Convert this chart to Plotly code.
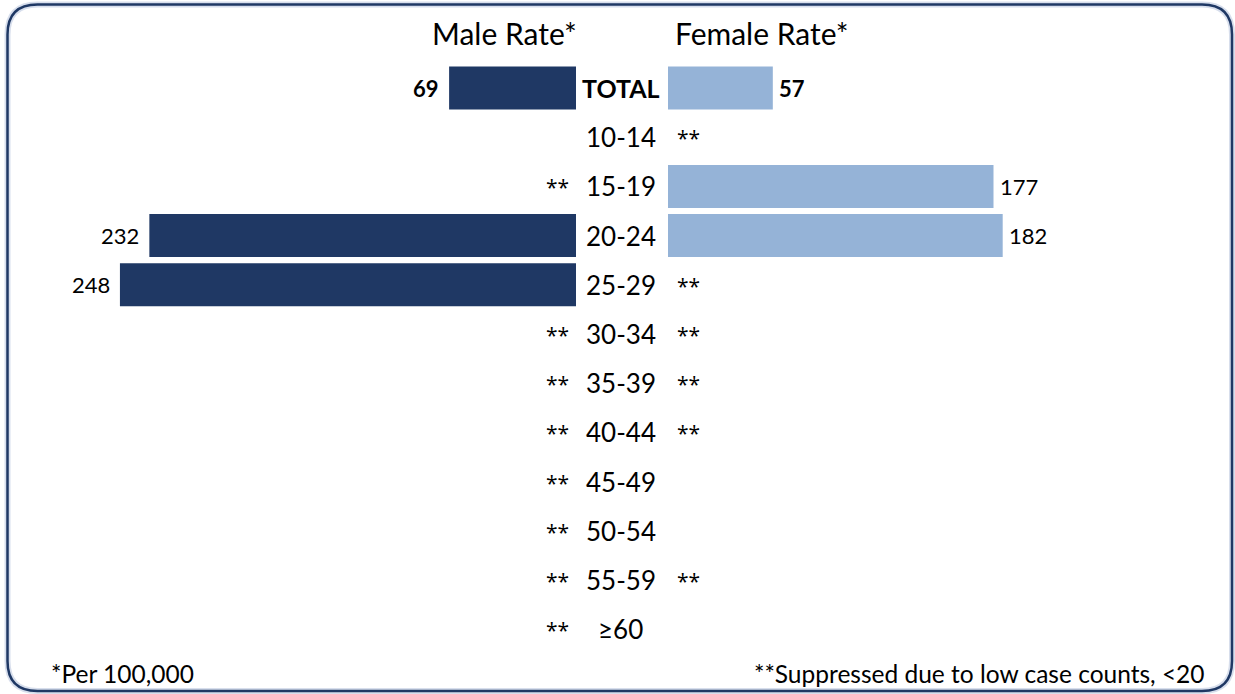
import plotly.graph_objects as go

# Rates per 100,000 by age group; None = no bar
age_groups = ["TOTAL", "10-14", "15-19", "20-24", "25-29", "30-34", "35-39",
              "40-44", "45-49", "50-54", "55-59", "≥60"]
male_rate = [69, None, None, 232, 248, None, None, None, None, None, None, None]
female_rate = [57, None, 177, 182, None, None, None, None, None, None, None, None]
# "**" marks suppressed cells (low case counts)
male_note = ["", "", "**", "", "", "**", "**", "**", "**", "**", "**", "**"]
female_note = ["", "**", "", "", "**", "**", "**", "**", "", "", "**", ""]

W, H = 1235, 694
MALE_COLOR = "#1f3864"
FEMALE_COLOR = "#95b3d7"
FONT = "Lato"
STAR_FONT = "Open Sans"
PX_PER_UNIT = 1.839
MALE_ZERO = 576
FEMALE_ZERO = 668
ROW0, ROW_STEP = 88, 49.2

fig = go.Figure()
fig.add_trace(go.Bar(
    y=age_groups, x=male_rate, orientation="h", xaxis="x", yaxis="y",
    marker=dict(color=MALE_COLOR, line=dict(width=0)), width=0.874,
    hoverinfo="x+y", name="Male"))
fig.add_trace(go.Bar(
    y=age_groups, x=female_rate, orientation="h", xaxis="x2", yaxis="y",
    marker=dict(color=FEMALE_COLOR, line=dict(width=0)), width=0.874,
    hoverinfo="x+y", name="Female"))

annotations = []
for i, g in enumerate(age_groups):
    bold = g == "TOTAL"
    label = f"<b>{g}</b>" if bold else g
    annotations.append(dict(
        text=label, x=621 / W, xref="paper", y=g, yref="y",
        xanchor="center", yanchor="middle", showarrow=False,
        font=dict(family=FONT, size=26 if not bold else 25, color="#000")))
    m = male_rate[i]
    if m is not None:
        t = f"<b>{m}</b>" if bold else str(m)
        annotations.append(dict(
            text=t, x=m, xref="x", y=g, yref="y", xanchor="right",
            yanchor="middle", xshift=-8, showarrow=False,
            font=dict(family=FONT, size=22, color="#000")))
    if male_note[i]:
        annotations.append(dict(
            text=male_note[i], x=0, xref="x", y=g, yref="y", xanchor="right",
            yanchor="middle", xshift=-5, yshift=-1, showarrow=False,
            font=dict(family=STAR_FONT, size=21, color="#000")))
    f = female_rate[i]
    if f is not None:
        t = f"<b>{f}</b>" if bold else str(f)
        annotations.append(dict(
            text=t, x=f, xref="x2", y=g, yref="y", xanchor="left",
            yanchor="middle", xshift=4, showarrow=False,
            font=dict(family=FONT, size=22, color="#000")))
    if female_note[i]:
        annotations.append(dict(
            text=female_note[i], x=0, xref="x2", y=g, yref="y", xanchor="left",
            yanchor="middle", xshift=7, yshift=-1, showarrow=False,
            font=dict(family=STAR_FONT, size=21, color="#000")))

# Column headers
annotations.append(dict(text="Male Rate*", x=505 / W, xref="paper", y=1 - 33 / H,
                        yref="paper", xanchor="center", yanchor="middle",
                        showarrow=False, font=dict(family=FONT, size=30, color="#000")))
annotations.append(dict(text="Female Rate*", x=762 / W, xref="paper", y=1 - 33 / H,
                        yref="paper", xanchor="center", yanchor="middle",
                        showarrow=False, font=dict(family=FONT, size=30, color="#000")))
# Footnotes
annotations.append(dict(text="*Per 100,000", x=49 / W, xref="paper", y=1 - 673 / H,
                        yref="paper", xanchor="left", yanchor="middle",
                        showarrow=False, font=dict(family=FONT, size=24.5, color="#000")))
annotations.append(dict(text="**Suppressed due to low case counts, <20", x=1207 / W,
                        xref="paper", y=1 - 673 / H, yref="paper", xanchor="right",
                        yanchor="middle", showarrow=False,
                        font=dict(family=FONT, size=24.5, color="#000")))

# Rounded border around the panel
def rounded_rect(x0, y0, x1, y1, r):
    fx = lambda px: px / W
    fy = lambda py: 1 - py / H
    return (f"M {fx(x0 + r)} {fy(y0)} L {fx(x1 - r)} {fy(y0)} "
            f"Q {fx(x1)} {fy(y0)} {fx(x1)} {fy(y0 + r)} "
            f"L {fx(x1)} {fy(y1 - r)} Q {fx(x1)} {fy(y1)} {fx(x1 - r)} {fy(y1)} "
            f"L {fx(x0 + r)} {fy(y1)} Q {fx(x0)} {fy(y1)} {fx(x0)} {fy(y1 - r)} "
            f"L {fx(x0)} {fy(y0 + r)} Q {fx(x0)} {fy(y0)} {fx(x0 + r)} {fy(y0)} Z")

border = rounded_rect(7.5, 4.5, 1232, 691, 30)
shapes = [
    dict(type="path", path=border, xref="paper", yref="paper",
         line=dict(color="rgba(140,160,200,0.35)", width=6), layer="above"),
    dict(type="path", path=border, xref="paper", yref="paper",
         line=dict(color=MALE_COLOR, width=2.5), layer="above"),
]

y_top = -ROW0 / ROW_STEP
y_bottom = (H - ROW0) / ROW_STEP

fig.update_layout(
    width=W, height=H, margin=dict(l=0, r=0, t=0, b=0),
    paper_bgcolor="white", plot_bgcolor="white", showlegend=False,
    barmode="overlay",
    xaxis=dict(domain=[0, MALE_ZERO / W], range=[MALE_ZERO / PX_PER_UNIT, 0],
               visible=False, fixedrange=True),
    xaxis2=dict(domain=[FEMALE_ZERO / W, 1], range=[0, (W - FEMALE_ZERO) / PX_PER_UNIT],
                visible=False, fixedrange=True),
    yaxis=dict(type="category", categoryorder="array", categoryarray=age_groups,
               range=[y_bottom, y_top], visible=False, fixedrange=True),
    annotations=annotations, shapes=shapes,
)

fig.write_html("out.html")
